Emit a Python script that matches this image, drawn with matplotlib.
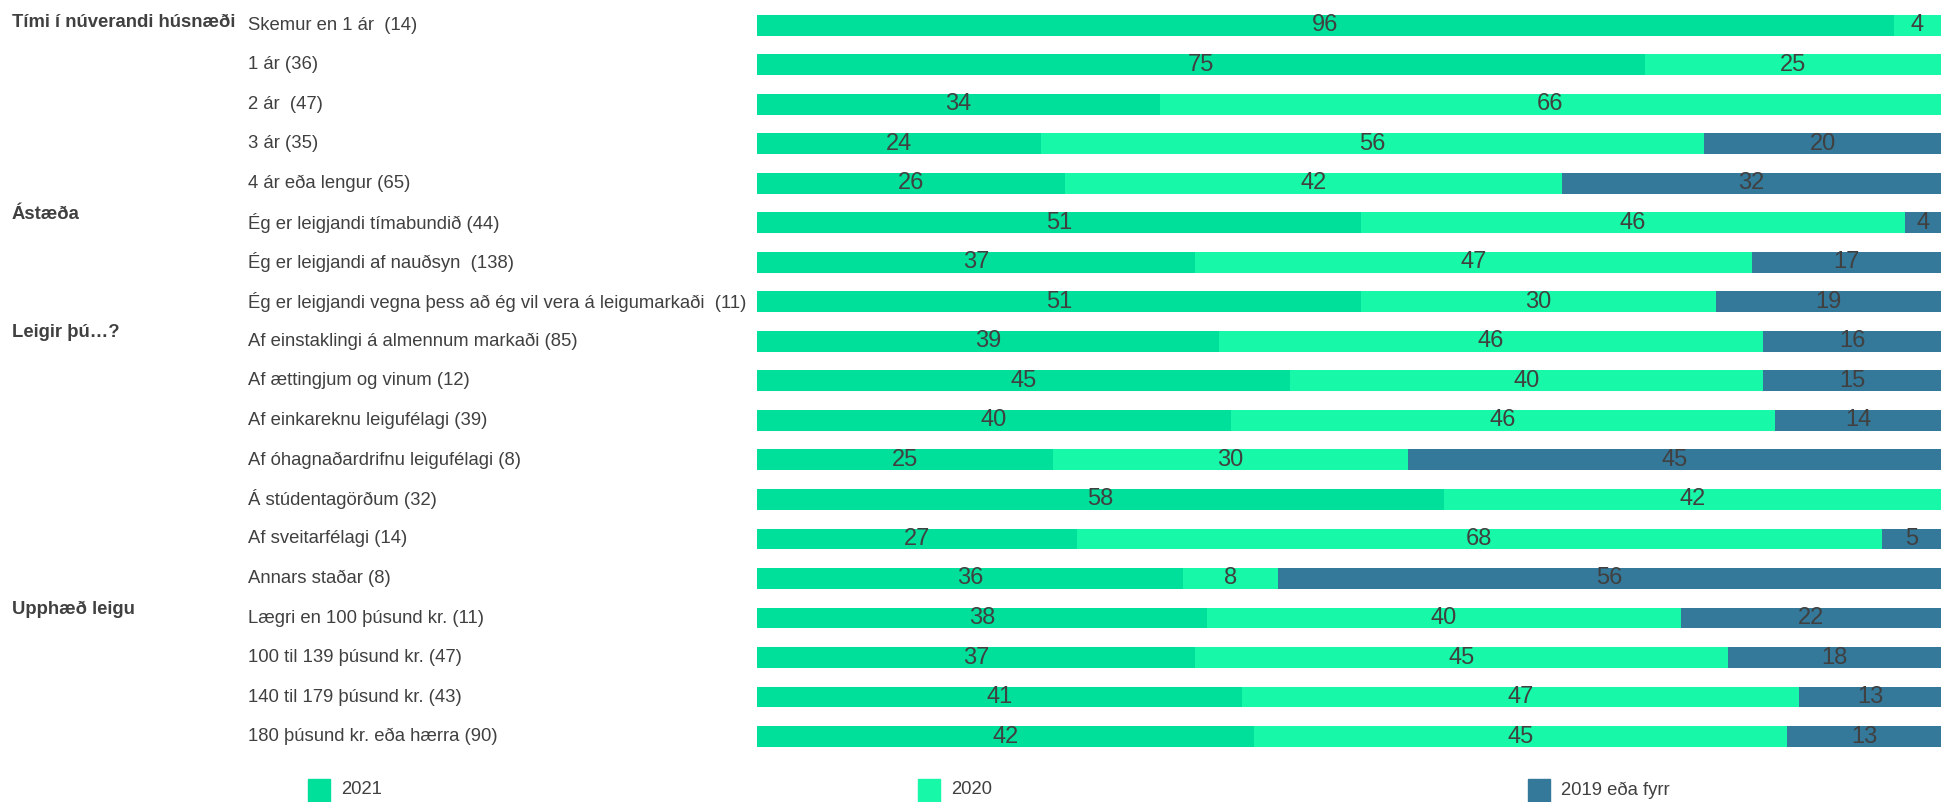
import matplotlib
matplotlib.use("Agg")
import matplotlib.pyplot as plt
from matplotlib.patches import Rectangle
from matplotlib.transforms import blended_transform_factory
import numpy as np

# Chart data
categories = [
    "Skemur en 1 ár  (14)",
    "1 ár (36)",
    "2 ár  (47)",
    "3 ár (35)",
    "4 ár eða lengur (65)",
    "Ég er leigjandi tímabundið (44)",
    "Ég er leigjandi af nauðsyn  (138)",
    "Ég er leigjandi vegna þess að ég vil vera á leigumarkaði  (11)",
    "Af einstaklingi á almennum markaði (85)",
    "Af ættingjum og vinum (12)",
    "Af einkareknu leigufélagi (39)",
    "Af óhagnaðardrifnu leigufélagi (8)",
    "Á stúdentagörðum (32)",
    "Af sveitarfélagi (14)",
    "Annars staðar (8)",
    "Lægri en 100 þúsund kr. (11)",
    "100 til 139 þúsund kr. (47)",
    "140 til 179 þúsund kr. (43)",
    "180 þúsund kr. eða hærra (90)",
]
groups = ["Tími í núverandi húsnæði", "Ástæða", "Leigir þú…?", "Upphæð leigu"]
group_start = [0, 5, 8, 15]

series_names = ["2021", "2020", "2019 eða fyrr"]
v2021 = [96, 75, 34, 24, 26, 51, 37, 51, 39, 45, 40, 25, 58, 27, 36, 38, 37, 41, 42]
v2020 = [4, 25, 66, 56, 42, 46, 47, 30, 46, 40, 46, 30, 42, 68, 8, 40, 45, 47, 45]
v2019 = [0, 0, 0, 20, 32, 4, 17, 19, 16, 15, 14, 45, 0, 5, 56, 22, 18, 13, 13]

colors = ["#00E09B", "#17F9A9", "#34789A"]
text_color = "#404040"

plt.rcParams["font.family"] = ["Liberation Sans", "DejaVu Sans"]

fig = plt.figure(figsize=(19.41, 8.02), dpi=100)
ax = fig.add_axes([0.39, 0.057, 0.61, 0.936])

n = len(categories)
y = np.arange(n)
left = np.zeros(n)
for vals, col in zip([v2021, v2020, v2019], colors):
    vals = np.array(vals, dtype=float)
    ax.barh(y, vals, left=left, height=0.53, color=col, edgecolor="none")
    for yi, l, v in zip(y, left, vals):
        if v > 0:
            right = min(l + v, 100)
            ax.text((l + right) / 2, yi, f"{int(v)}", ha="center", va="center",
                    fontsize=17, color=text_color)
    left += vals

ax.set_xlim(0, 100)
ax.set_ylim(n - 0.5, -0.5)
ax.axis("off")

trans = blended_transform_factory(fig.transFigure, ax.transData)
for yi, cat in zip(y, categories):
    ax.text(0.128, yi, cat, transform=trans, ha="left", va="center",
            fontsize=13.3, color=text_color, clip_on=False)
for g, s in zip(groups, group_start):
    ax.text(0.006, max(s - 0.22, -0.08), g, transform=trans, ha="left", va="center",
            fontsize=13.3, fontweight="bold", color=text_color, clip_on=False)

# Legend
leg_x = [308, 918, 1528]
for name, col, lx in zip(series_names, colors, leg_x):
    fig.add_artist(Rectangle((lx / 1941, 0 / 802), 22 / 1941, 23 / 802,
                             transform=fig.transFigure, color=col))
    fig.text((lx + 33) / 1941, 12 / 802, name, ha="left", va="center",
             fontsize=13.3, color=text_color)

fig.savefig("out.png", dpi=100)
